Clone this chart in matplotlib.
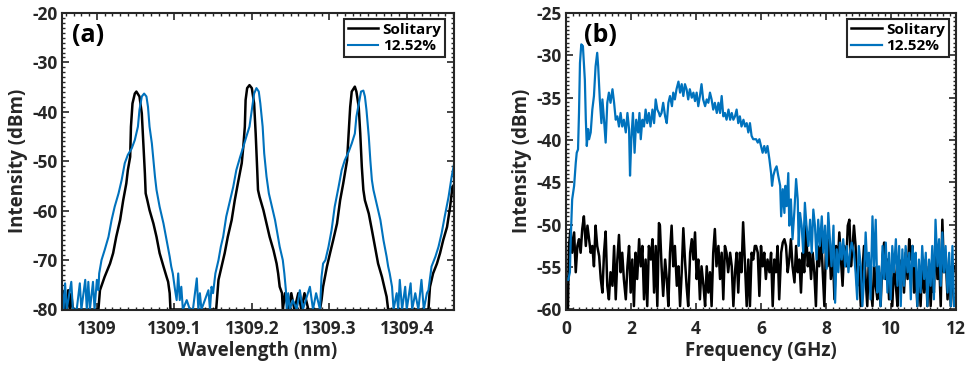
import matplotlib
matplotlib.use("Agg")
import matplotlib.pyplot as plt
from matplotlib.ticker import MultipleLocator, FixedLocator, FixedFormatter

# ---------------- Panel (a): optical spectra ----------------
wl_solitary = [
    1308.955, 1308.957, 1308.959, 1308.961, 1308.963, 1308.965, 1308.967, 1308.969,
    1309.002, 1309.004, 1309.010, 1309.017, 1309.021, 1309.025, 1309.030, 1309.034, 1309.038, 1309.040,
    1309.043, 1309.044, 1309.046, 1309.049, 1309.051, 1309.055, 1309.058, 1309.060, 1309.062, 1309.063,
    1309.065, 1309.068, 1309.073, 1309.077, 1309.081, 1309.086, 1309.090, 1309.092, 1309.094, 1309.095,
    1309.154, 1309.157, 1309.161, 1309.165, 1309.169, 1309.174, 1309.178, 1309.182, 1309.187, 1309.189,
    1309.191, 1309.192, 1309.194, 1309.197, 1309.200, 1309.203, 1309.205, 1309.207, 1309.208, 1309.210,
    1309.215, 1309.219, 1309.223, 1309.228, 1309.232, 1309.234, 1309.236, 1309.239, 1309.240,
    1309.243, 1309.247, 1309.251, 1309.255, 1309.260, 1309.264, 1309.268, 1309.273,
    1309.288, 1309.290, 1309.292, 1309.297, 1309.301, 1309.305, 1309.310, 1309.314, 1309.318, 1309.323,
    1309.325, 1309.327, 1309.329, 1309.333, 1309.335, 1309.338, 1309.340, 1309.342, 1309.344, 1309.346,
    1309.351, 1309.355, 1309.359, 1309.363, 1309.368, 1309.372, 1309.374, 1309.376,
    1309.428, 1309.430, 1309.434, 1309.439, 1309.443, 1309.447, 1309.452, 1309.456, 1309.459, 1309.462,
]
int_solitary = [
    -80, -76.5, -80, -80, -76.1, -80, -76.8, -80,
    -80, -76.1, -73.4, -70.7, -68.6, -65.3, -61.9, -57.9, -54.5, -51.8,
    -49.1, -43.0, -38.3, -36.3, -35.9, -36.9, -40.3, -46.4, -52.5, -56.5,
    -57.8, -59.9, -62.6, -65.3, -68.6, -71.3, -73.4, -74.4, -76.7, -80,
    -80, -74.0, -71.3, -68.6, -65.3, -61.9, -57.9, -54.5, -50.4, -47.1,
    -43.0, -37.6, -35.2, -34.6, -35.2, -38.3, -44.4, -51.8, -55.8, -57.2,
    -59.9, -62.6, -65.3, -68.0, -70.7, -72.7, -75.4, -76.7, -80,
    -76.7, -80, -76.7, -80, -76.7, -80, -76.7, -80,
    -80, -78.1, -75.4, -71.3, -68.6, -66.0, -62.6, -57.9, -54.5, -49.8,
    -44.4, -39.0, -35.9, -34.9, -35.9, -39.0, -44.4, -51.1, -55.8, -57.9,
    -60.6, -63.9, -67.3, -70.7, -73.4, -76.1, -77.4, -80,
    -80, -75.4, -72.7, -70.7, -68.6, -66.0, -63.3, -59.2, -55.2, -54.5,
]

wl_feedback = [
    1308.954, 1308.957, 1308.959, 1308.961, 1308.967, 1308.969, 1308.974, 1308.978, 1308.980, 1308.985,
    1308.987, 1308.989, 1308.991, 1308.995, 1308.997, 1309.000, 1309.002,
    1309.003, 1309.006, 1309.010, 1309.015, 1309.019, 1309.023, 1309.028, 1309.032, 1309.036, 1309.040,
    1309.045, 1309.049, 1309.053, 1309.055, 1309.058, 1309.061, 1309.064, 1309.066, 1309.068, 1309.071,
    1309.073, 1309.075, 1309.077, 1309.081, 1309.086, 1309.090, 1309.094, 1309.096, 1309.098, 1309.101,
    1309.103, 1309.105, 1309.107, 1309.109, 1309.111, 1309.116, 1309.120, 1309.124, 1309.129, 1309.131,
    1309.133, 1309.135, 1309.144, 1309.146, 1309.148, 1309.150, 1309.152,
    1309.153, 1309.157, 1309.160, 1309.163, 1309.167, 1309.172, 1309.176, 1309.180, 1309.185, 1309.189,
    1309.193, 1309.197, 1309.200, 1309.203, 1309.206, 1309.209, 1309.211, 1309.214, 1309.216, 1309.219,
    1309.222, 1309.225, 1309.230, 1309.233, 1309.236, 1309.240, 1309.242, 1309.244, 1309.245,
    1309.247, 1309.249, 1309.253, 1309.258, 1309.262, 1309.266, 1309.271, 1309.275, 1309.279, 1309.283, 1309.288,
    1309.290, 1309.292, 1309.295, 1309.299, 1309.303, 1309.307, 1309.312, 1309.316, 1309.320, 1309.325,
    1309.329, 1309.333, 1309.335, 1309.339, 1309.341, 1309.344, 1309.346, 1309.348, 1309.351, 1309.353,
    1309.355, 1309.357, 1309.361, 1309.366, 1309.370, 1309.374, 1309.376, 1309.378, 1309.381, 1309.383,
    1309.387, 1309.389, 1309.391, 1309.394, 1309.398, 1309.400, 1309.405, 1309.407, 1309.411, 1309.415,
    1309.419, 1309.422, 1309.426, 1309.428, 1309.432, 1309.437, 1309.441, 1309.445, 1309.449, 1309.454,
    1309.458, 1309.462,
]
int_feedback = [
    -74.4, -80, -74.7, -80, -74.4, -80, -80, -74.7, -80, -74.0,
    -80, -74.4, -80, -74.4, -80, -74.0, -76.1,
    -72.7, -70.0, -68.0, -65.3, -61.9, -59.2, -56.5, -53.8, -50.4, -48.7,
    -47.4, -45.7, -43.0, -39.6, -36.9, -36.3, -36.9, -39.0, -43.0, -46.4,
    -49.8, -53.1, -55.8, -59.2, -62.6, -66.0, -69.3, -71.3, -72.7, -76.1,
    -78.1, -72.7, -78.1, -75.4, -80, -78.1, -80, -80, -73.7, -80,
    -76.7, -80, -76.1, -80, -75.4, -76.7, -74.0,
    -72.7, -70.0, -67.3, -65.3, -61.2, -57.9, -55.2, -51.8, -49.1, -47.1,
    -45.0, -43.0, -39.6, -36.3, -35.2, -35.9, -38.3, -43.0, -48.4, -53.1,
    -56.5, -58.5, -61.9, -64.6, -67.3, -70.0, -72.7, -76.1, -80,
    -76.7, -80, -78.1, -80, -76.1, -80, -77.4, -75.4, -80, -76.7, -80,
    -73.4, -70.7, -70.0, -67.3, -63.9, -59.2, -55.2, -51.8, -49.8, -48.1,
    -46.4, -44.4, -41.0, -37.6, -35.9, -35.7, -36.9, -39.6, -45.0, -49.8,
    -53.8, -55.8, -58.5, -61.9, -66.0, -69.3, -71.3, -72.7, -75.4, -80,
    -76.7, -80, -74.0, -80, -75.4, -80, -74.7, -80, -76.7, -80,
    -74.0, -80, -76.7, -76.1, -71.3, -69.3, -67.3, -64.6, -61.2, -57.2,
    -53.1, -49.8,
]

wl_ticks = [1309.0, 1309.1, 1309.2, 1309.3, 1309.4]
wl_tick_labels = ["1309", "1309.1", "1309.2", "1309.3", "1309.4"]

# ---------------- Panel (b): RF spectra ----------------
freq_solitary = [
    0.06, 0.09, 0.14, 0.19, 0.25, 0.30, 0.35, 0.40, 0.45, 0.50,
    0.55, 0.61, 0.66, 0.71, 0.76, 0.81, 0.86, 0.91, 0.96, 1.02,
    1.07, 1.12, 1.17, 1.22, 1.27, 1.32, 1.37, 1.43, 1.48, 1.53,
    1.58, 1.63, 1.68, 1.73, 1.78, 1.84, 1.89, 1.94, 1.99, 2.04,
    2.09, 2.14, 2.19, 2.25, 2.30, 2.35, 2.40, 2.45, 2.50, 2.55,
    2.61, 2.66, 2.71, 2.76, 2.81, 2.86,
    2.89, 2.94, 2.99, 3.05, 3.10, 3.15, 3.20, 3.25, 3.30, 3.35,
    3.41, 3.46, 3.51, 3.56, 3.61, 3.66, 3.71, 3.76, 3.82, 3.87,
    3.92, 3.97, 4.02, 4.07, 4.12, 4.17, 4.23, 4.28, 4.33, 4.38,
    4.43, 4.48, 4.53, 4.58, 4.63, 4.69, 4.74, 4.79, 4.84, 4.89,
    4.94, 4.99, 5.05, 5.10, 5.15, 5.20, 5.25, 5.30, 5.35, 5.40,
    5.45, 5.51, 5.56, 5.61, 5.66, 5.71, 5.76, 5.81,
    5.85, 5.90, 5.95, 6.00, 6.05, 6.10, 6.15, 6.20, 6.26, 6.31,
    6.36, 6.41, 6.46, 6.51, 6.56, 6.62, 6.67, 6.72, 6.77, 6.82,
    6.87, 6.92, 6.97, 7.03, 7.08, 7.13, 7.18, 7.23, 7.28, 7.33,
    7.38, 7.44, 7.49, 7.54, 7.59, 7.64, 7.69, 7.74, 7.79, 7.85,
    7.90, 7.95, 8.00, 8.05, 8.10, 8.15, 8.21, 8.26, 8.31, 8.36,
    8.41, 8.46, 8.51, 8.56, 8.62, 8.67, 8.72, 8.77, 8.82,
    8.86, 8.91, 8.96, 9.01, 9.07, 9.12, 9.17, 9.22, 9.27, 9.32,
    9.37, 9.43, 9.48, 9.53, 9.58, 9.63, 9.68, 9.74, 9.79, 9.84,
    9.89, 9.94, 9.99, 10.04, 10.09, 10.15, 10.20, 10.25, 10.30, 10.35,
    10.40, 10.45, 10.51, 10.56, 10.61, 10.66, 10.71, 10.76, 10.81, 10.86,
    10.91, 10.96, 11.02, 11.07, 11.12, 11.17, 11.22, 11.27, 11.32, 11.37,
    11.43, 11.48, 11.53, 11.58, 11.63, 11.68, 11.74, 11.79, 11.84, 11.89,
    11.94,
]
rf_solitary = [
    -59.8, -52.5, -50.5, -53.3, -50.9, -55.6, -52.5, -51.7, -53.3, -50.5,
    -49.0, -52.5, -50.1, -51.7, -53.3, -52.5, -54.9, -50.1, -52.5, -53.7,
    -56.4, -58.0, -53.3, -50.8, -57.2, -58.8, -55.6, -57.2, -52.5, -58.8,
    -54.1, -51.2, -55.6, -53.3, -56.4, -58.8, -54.9, -52.5, -58.0, -54.1,
    -59.6, -53.3, -56.4, -51.7, -54.9, -52.5, -58.8, -54.1, -59.6, -52.5,
    -54.1, -51.7, -58.0, -52.5, -59.6, -49.8,
    -50.1, -54.9, -58.4, -54.1, -56.4, -59.6, -53.3, -50.1, -54.9, -52.5,
    -57.2, -54.9, -59.6, -55.6, -50.4, -54.1, -57.2, -59.6, -53.3, -51.7,
    -54.1, -50.9, -56.4, -54.1, -58.8, -54.9, -57.2, -59.6, -54.9, -58.0,
    -55.6, -59.6, -53.3, -50.5, -54.9, -52.5, -56.4, -53.3, -58.8, -52.5,
    -53.3, -55.6, -53.3, -54.9, -59.6, -55.6, -53.3, -58.0, -53.3, -55.6,
    -49.7, -54.9, -59.6, -54.1, -59.6, -53.3, -54.1, -52.5,
    -52.5, -53.3, -58.4, -52.5, -54.9, -53.3, -56.4, -54.1, -55.6, -53.3,
    -59.6, -54.1, -55.6, -52.5, -58.8, -53.3, -52.1, -51.7, -52.5, -55.6,
    -54.1, -51.7, -54.9, -56.8, -52.5, -55.6, -54.1, -58.0, -53.3, -55.6,
    -50.1, -54.9, -53.3, -56.4, -53.3, -55.6, -59.6, -52.5, -54.9, -51.3,
    -55.6, -59.6, -52.5, -54.9, -51.7, -56.4, -53.3, -58.8, -52.5, -54.9,
    -50.9, -54.1, -57.2, -52.5, -54.9, -50.1, -49.4, -54.9, -52.5,
    -50.1, -52.5, -57.2, -54.9, -59.6, -55.6, -52.5, -56.4, -59.6, -54.1,
    -57.2, -59.6, -54.9, -57.2, -58.8, -55.6, -59.6, -53.7, -52.1, -56.4,
    -54.1, -58.8, -55.6, -59.6, -54.9, -57.2, -59.6, -54.1, -56.4, -54.9,
    -58.0, -53.3, -56.4, -51.7, -54.1, -52.5, -58.0, -54.9, -59.6, -55.6,
    -59.6, -54.9, -58.0, -54.1, -59.6, -54.9, -59.6, -55.6, -58.0, -51.7,
    -56.4, -54.1, -59.6, -49.4, -55.6, -53.3, -58.8, -54.9, -59.6, -56.4,
    -54.9,
]

freq_feedback = [
    0.07, 0.12, 0.14, 0.16, 0.19, 0.25, 0.30, 0.33, 0.37, 0.40,
    0.43, 0.47, 0.52, 0.58, 0.61, 0.64, 0.68, 0.71, 0.76, 0.81,
    0.86, 0.91, 0.96, 0.99, 1.04, 1.09, 1.12, 1.17, 1.22, 1.27,
    1.32, 1.37, 1.43, 1.48, 1.53, 1.58, 1.63, 1.68, 1.73, 1.78,
    1.84, 1.89, 1.94, 1.97, 2.01, 2.06, 2.11, 2.16, 2.22, 2.26,
    2.30, 2.35, 2.40, 2.45, 2.50, 2.55, 2.60, 2.66, 2.71, 2.76,
    2.81, 2.86,
    2.89, 2.94, 2.99, 3.05, 3.10, 3.15, 3.20, 3.26, 3.30, 3.35,
    3.40, 3.46, 3.51, 3.56, 3.61, 3.66, 3.71, 3.76, 3.81, 3.87,
    3.92, 3.97, 4.02, 4.07, 4.12, 4.17, 4.22, 4.28, 4.33, 4.38,
    4.43, 4.48, 4.53, 4.58, 4.64, 4.69, 4.74, 4.79, 4.84, 4.89,
    4.94, 5.00, 5.05, 5.10, 5.15, 5.20, 5.25, 5.30, 5.35, 5.40,
    5.46, 5.51, 5.56, 5.61, 5.66, 5.71, 5.76, 5.82,
    5.85, 5.90, 5.95, 6.00, 6.05, 6.10, 6.15, 6.20, 6.26, 6.31,
    6.34, 6.38, 6.43, 6.48, 6.53, 6.59, 6.62, 6.67, 6.72, 6.75,
    6.79, 6.84, 6.87, 6.92, 6.97, 7.03, 7.08, 7.13, 7.16, 7.20,
    7.25, 7.30, 7.35, 7.40, 7.46, 7.51, 7.56, 7.61, 7.66, 7.71,
    7.76, 7.81, 7.87, 7.92, 7.97, 8.02, 8.07, 8.12, 8.17, 8.23,
    8.28, 8.33, 8.38, 8.43, 8.48, 8.53, 8.59, 8.64, 8.69, 8.74,
    8.79,
    8.86, 8.91, 8.96, 9.01, 9.07, 9.12, 9.17, 9.22, 9.27, 9.32,
    9.37, 9.43, 9.48, 9.53, 9.58, 9.63, 9.68, 9.74, 9.79, 9.84,
    9.89, 9.94, 9.99, 10.04, 10.09, 10.15, 10.20, 10.25, 10.30, 10.35,
    10.40, 10.45, 10.51, 10.56, 10.61, 10.66, 10.71, 10.76, 10.81, 10.86,
    10.91, 10.96, 11.02, 11.07, 11.12, 11.17, 11.22, 11.27, 11.32, 11.37,
    11.43, 11.48, 11.53, 11.58, 11.63, 11.68, 11.74, 11.79, 11.84, 11.89,
    11.94,
]
rf_feedback = [
    -56.5, -55.6, -52.5, -50.1, -47.0, -45.4, -42.7, -41.5, -41.1, -36.8,
    -30.9, -28.7, -28.9, -32.9, -37.6, -40.7, -38.7, -39.9, -39.1, -36.4,
    -34.8, -31.3, -29.7, -31.3, -35.2, -38.0, -35.2, -37.6, -40.3, -35.6,
    -34.4, -35.6, -34.0, -35.6, -37.6, -37.2, -38.4, -36.8, -38.4, -37.6,
    -39.1, -36.8, -38.7, -44.2, -39.9, -36.8, -41.5, -37.6, -39.1, -36.8,
    -39.9, -37.6, -38.4, -36.4, -38.0, -36.8, -38.4, -36.4, -38.0, -35.2,
    -36.4, -36.8,
    -37.2, -36.8, -35.6, -37.2, -38.0, -35.6, -34.8, -36.0, -34.4, -35.2,
    -34.0, -33.1, -34.4, -33.4, -34.8, -33.4, -34.0, -35.2, -34.0, -35.0,
    -34.4, -35.4, -34.4, -36.0, -34.8, -33.4, -35.2, -36.0, -35.2, -35.6,
    -34.4, -35.2, -36.4, -35.6, -36.8, -35.6, -36.8, -34.8, -37.2, -36.8,
    -37.6, -36.4, -37.6, -36.8, -37.6, -37.2, -36.4, -38.0, -37.2, -38.4,
    -37.6, -38.4, -38.0, -39.1, -38.0, -39.5, -39.9, -39.9,
    -39.9, -40.3, -39.9, -40.7, -41.5, -40.7, -41.5, -40.7, -42.3, -43.9,
    -45.4, -44.2, -43.5, -43.1, -44.2, -45.4, -49.0, -45.8, -48.6, -45.4,
    -47.8, -43.9, -50.1, -47.0, -51.7, -48.2, -44.6, -47.0, -52.5, -48.6,
    -50.1, -53.3, -47.4, -50.1, -52.5, -49.4, -53.3, -48.2, -50.1, -54.1,
    -49.4, -52.5, -49.0, -53.3, -50.1, -55.2, -48.6, -51.7, -54.9, -50.1,
    -59.2, -52.9, -55.6, -52.1, -54.1, -51.7, -54.9, -52.5, -55.6, -53.3,
    -52.1,
    -53.3, -55.6, -58.8, -52.5, -54.9, -59.6, -56.4, -50.9, -54.9, -53.3,
    -58.8, -49.0, -54.9, -49.4, -58.0, -54.9, -59.6, -52.5, -56.4, -52.1,
    -58.0, -53.3, -58.8, -52.5, -55.6, -51.7, -57.2, -52.5, -59.6, -52.9,
    -57.2, -52.5, -55.6, -53.3, -58.8, -52.5, -54.9, -53.3, -59.6, -54.1,
    -58.0, -52.5, -56.4, -53.3, -59.6, -54.1, -57.2, -52.5, -58.8, -49.4,
    -54.9, -51.7, -57.2, -50.9, -55.6, -52.5, -58.0, -53.3, -59.6, -52.5,
    -59.6,
]

series_labels = ["Solitary", "12.52%"]
black = "#000000"
blue = "#0072BD"
axis_color = "#262626"

plt.rcParams["font.family"] = ["Open Sans", "DejaVu Sans"]
plt.rcParams["font.weight"] = "bold"
plt.rcParams["axes.unicode_minus"] = False

fig = plt.figure(figsize=(9.69, 3.67), dpi=100)
H = 367.0
W = 969.0
ax1 = fig.add_axes([62 / W, 57.5 / H, 392 / W, 296.5 / H])
ax2 = fig.add_axes([566 / W, 57.5 / H, 390 / W, 296.5 / H])


def style(ax):
    for s in ax.spines.values():
        s.set_linewidth(1.5)
        s.set_color(axis_color)
    ax.tick_params(which="both", direction="in", top=True, right=True,
                   colors=axis_color, labelcolor=axis_color)
    ax.tick_params(which="major", length=5, width=1.2, labelsize=12.5)
    ax.tick_params(which="minor", length=2.5, width=1.0)
    ax.tick_params(axis="x", which="major", pad=7.5)
    ax.tick_params(axis="y", which="major", pad=3)
    for lab in ax.get_xticklabels() + ax.get_yticklabels():
        lab.set_fontweight("bold")


# Panel (a)
ax1.plot(wl_solitary, int_solitary, color=black, lw=1.8, label=series_labels[0])
ax1.plot(wl_feedback, int_feedback, color=blue, lw=1.5, label=series_labels[1])
ax1.set_xlim(1308.955, 1309.461)
ax1.set_ylim(-80, -20)
ax1.xaxis.set_major_locator(FixedLocator(wl_ticks))
ax1.xaxis.set_major_formatter(FixedFormatter(wl_tick_labels))
ax1.xaxis.set_minor_locator(MultipleLocator(0.01))
ax1.yaxis.set_major_locator(MultipleLocator(10))
ax1.yaxis.set_minor_locator(MultipleLocator(1))
style(ax1)
ax1.set_xlabel("Wavelength (nm)", fontsize=13.5, fontweight="bold", color=axis_color, labelpad=2)
ax1.set_ylabel("Intensity (dBm)", fontsize=13.5, fontweight="bold", color=axis_color, labelpad=3)
ax1.text(0.025, 0.965, "(a)", transform=ax1.transAxes, fontsize=18, fontweight="bold",
         va="top", ha="left", color="black")

# Panel (b)
ax2.plot(freq_solitary, rf_solitary, color=black, lw=1.8, label=series_labels[0])
ax2.plot(freq_feedback, rf_feedback, color=blue, lw=1.6, label=series_labels[1])
ax2.set_xlim(0, 12)
ax2.set_ylim(-60, -25)
ax2.xaxis.set_major_locator(MultipleLocator(2))
ax2.xaxis.set_minor_locator(MultipleLocator(0.2))
ax2.yaxis.set_major_locator(MultipleLocator(5))
ax2.yaxis.set_minor_locator(MultipleLocator(0.5))
style(ax2)
ax2.set_xlabel("Frequency (GHz)", fontsize=13.5, fontweight="bold", color=axis_color, labelpad=2)
ax2.set_ylabel("Intensity (dBm)", fontsize=13.5, fontweight="bold", color=axis_color, labelpad=3)
ax2.text(0.045, 0.965, "(b)", transform=ax2.transAxes, fontsize=18, fontweight="bold",
         va="top", ha="left", color="black")

for ax, anchor in ((ax1, (0.978, 0.98)), (ax2, (0.982, 0.98))):
    leg = ax.legend(loc="upper right", bbox_to_anchor=anchor, fancybox=False,
                    framealpha=1, edgecolor=axis_color, handlelength=2.0,
                    handletextpad=0.3, borderpad=0.25, labelspacing=0.15,
                    borderaxespad=0.0, prop={"weight": "bold", "size": 11})
    leg.get_frame().set_linewidth(1.5)

fig.savefig("out.png", dpi=100)
